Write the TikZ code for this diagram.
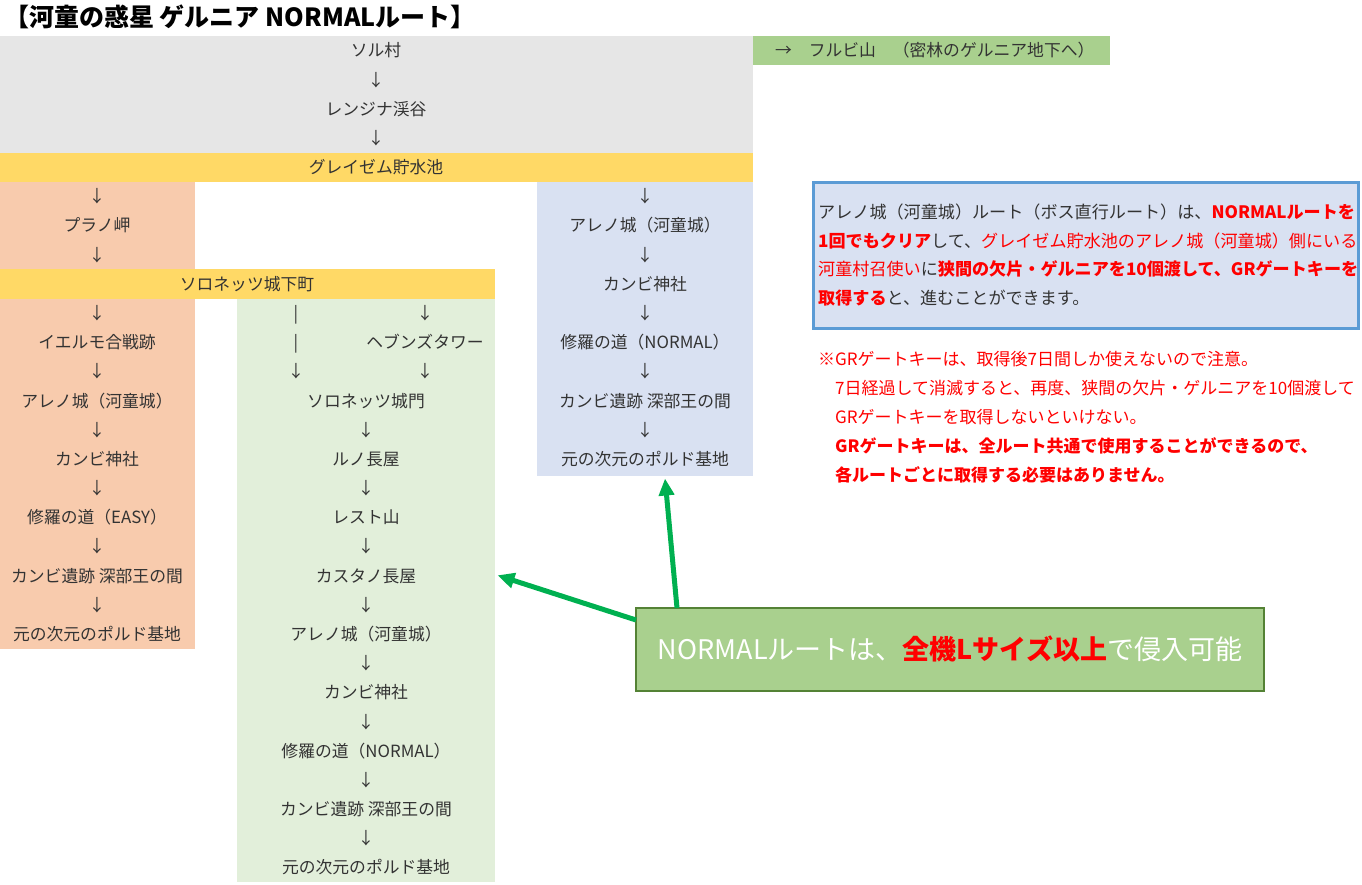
\documentclass[tikz,border=0pt]{standalone}
\usepackage{fontspec}
\setmainfont{Noto Sans CJK JP}
\usetikzlibrary{arrows.meta}
\definecolor{cgray}{HTML}{E6E6E6}
\definecolor{cyellow}{HTML}{FFD966}
\definecolor{cpeach}{HTML}{F8CBAD}
\definecolor{cblue}{HTML}{D9E1F2}
\definecolor{clgreen}{HTML}{E2EFDA}
\definecolor{cgreen}{HTML}{A9D08E}
\definecolor{cinfob}{HTML}{5B9BD5}
\definecolor{cdgreen}{HTML}{548235}
\definecolor{carrow}{HTML}{00B050}
\definecolor{ctext}{HTML}{333333}
\definecolor{cred}{HTML}{FF0000}
\begin{document}
\begin{tikzpicture}[x=1pt,y=-1pt,
  band/.style={inner sep=0pt, outer sep=0pt, anchor=north west},
  cell/.style={inner sep=0pt, anchor=base, text=ctext, font=\fontsize{16.8}{20}\selectfont},
  line/.style={inner sep=0pt, anchor=base west, text=ctext, font=\fontsize{17.1}{20}\selectfont},
  note/.style={inner sep=0pt, anchor=base west, text=cred, font=\fontsize{17}{20}\selectfont},
  garrow/.style={draw=carrow, line width=5pt, -{Triangle[length=17pt,width=15pt]}}
]
\useasboundingbox (0,0) rectangle (1362,885);
% background bands
\node[band, fill=cgray, minimum width=753, minimum height=116.7] (gray) at (0,36) {};
\node[band, fill=cgreen, minimum width=357, minimum height=29.2] (fulbi) at (753,36) {};
\node[band, fill=cyellow, minimum width=753, minimum height=29.2] (y1) at (0,152.7) {};
\node[band, fill=cpeach, minimum width=194.5, minimum height=87.6] (pk1) at (0,181.9) {};
\node[band, fill=cyellow, minimum width=494.5, minimum height=29.2] (y2) at (0,269.4) {};
\node[band, fill=cpeach, minimum width=194.5, minimum height=350.2] (pk2) at (0,298.6) {};
\node[band, fill=cblue, minimum width=216, minimum height=293.6] (blue) at (537,181.9) {};
\node[band, fill=clgreen, minimum width=257.5, minimum height=583.4] (lg) at (237,298.6) {};
% title
\node[inner sep=0pt, anchor=base west, font=\fontsize{25}{28}\selectfont\bfseries] (title) at (4,27) {【河童の惑星 ゲルニア NORMALルート】};
% gray / yellow column
\foreach \k/\t in {0/ソル村,1/↓,2/レンジナ渓谷,3/↓,4/グレイゼム貯水池}
  \node[cell] (g\k) at (376,{36+29.18*(\k+0.5)+6.3}) {\t};
\node[cell, anchor=base west] (fulbit) at (775,{36+29.18*0.5+6.3}) {→　フルビ山　（密林のゲルニア地下へ）};
% peach column
\foreach \k/\t in {5/↓,6/プラノ岬,7/↓,9/↓,10/イエルモ合戦跡,11/↓,12/アレノ城（河童城）,13/↓,14/カンビ神社,15/↓,16/修羅の道（EASY）,17/↓,18/カンビ遺跡 深部王の間,19/↓,20/元の次元のポルド基地}
  \node[cell] (p\k) at (97,{36+29.18*(\k+0.5)+6.3}) {\t};
\node[cell] (y2t) at (247,{36+29.18*8.5+6.3}) {ソロネッツ城下町};
% blue column
\foreach \k/\t in {5/↓,6/アレノ城（河童城）,7/↓,8/カンビ神社,9/↓,10/修羅の道（NORMAL）,11/↓,12/カンビ遺跡 深部王の間,13/↓,14/元の次元のポルド基地}
  \node[cell] (b\k) at (645,{36+29.18*(\k+0.5)+6.3}) {\t};
% light green column
\foreach \k/\t in {9/|,10/|,11/↓}
  \node[cell] (la\k) at (296,{36+29.18*(\k+0.5)+6.3}) {\t};
\foreach \k/\t in {9/↓,10/ヘブンズタワー,11/↓}
  \node[cell] (lb\k) at (425,{36+29.18*(\k+0.5)+6.3}) {\t};
\foreach \k/\t in {12/ソロネッツ城門,13/↓,14/ルノ長屋,15/↓,16/レスト山,17/↓,18/カスタノ長屋,19/↓,20/アレノ城（河童城）,21/↓,22/カンビ神社,23/↓,24/修羅の道（NORMAL）,25/↓,26/カンビ遺跡 深部王の間,27/↓,28/元の次元のポルド基地}
  \node[cell] (l\k) at (366,{36+29.18*(\k+0.5)+6.3}) {\t};
% info box
\node[band, draw=cinfob, line width=3pt, fill=cblue, minimum width=545, minimum height=146] (info) at (813.5,182.5) {};
\node[line] (i1) at (818,218.4) {アレノ城（河童城）ルート（ボス直行ルート）は、\textcolor{cred}{\bfseries NORMALルートを}};
\node[line] (i2) at (818,247.4) {\textcolor{cred}{\bfseries 1回でもクリア}して、\textcolor{cred}{グレイゼム貯水池のアレノ城（河童城）側にいる}};
\node[line] (i3) at (818,275.4) {\textcolor{cred}{河童村召使い}に\textcolor{cred}{\bfseries 狭間の欠片・ゲルニアを10個渡して、GRゲートキーを}};
\node[line] (i4) at (818,304.4) {\textcolor{cred}{\bfseries 取得する}と、進むことができます。};
% notes
\node[note] (n1) at (818,365.4) {※GRゲートキーは、取得後7日間しか使えないので注意。};
\node[note] (n2) at (835,394.4) {7日経過して消滅すると、再度、狭間の欠片・ゲルニアを10個渡して};
\node[note] (n3) at (835,423.4) {GRゲートキーを取得しないといけない。};
\node[note, font=\fontsize{17}{20}\selectfont\bfseries] (n4) at (835,452.4) {GRゲートキーは、全ルート共通で使用することができるので、};
\node[note, font=\fontsize{17}{20}\selectfont\bfseries] (n5) at (835,481.4) {各ルートごとに取得する必要はありません。};
% callout
\node[band, draw=cdgreen, line width=2pt, fill=cgreen, minimum width=628, minimum height=83] (call) at (636,608) {};
\node[inner sep=0pt, anchor=base, font=\fontsize{27}{30}\selectfont] (callt) at (950,659) {\textcolor{white}{NORMALルートは、}\textcolor{cred}{\bfseries 全機Lサイズ以上}\textcolor{white}{で侵入可能}};
% arrows
\draw[garrow] ([xshift=41pt]call.north west) -- ([xshift=20pt,yshift=-3pt]blue.south);
\draw[garrow] ([yshift=-12pt]call.north west) -- ([xshift=3pt,yshift=15pt]lg.east);
\end{tikzpicture}
\end{document}
